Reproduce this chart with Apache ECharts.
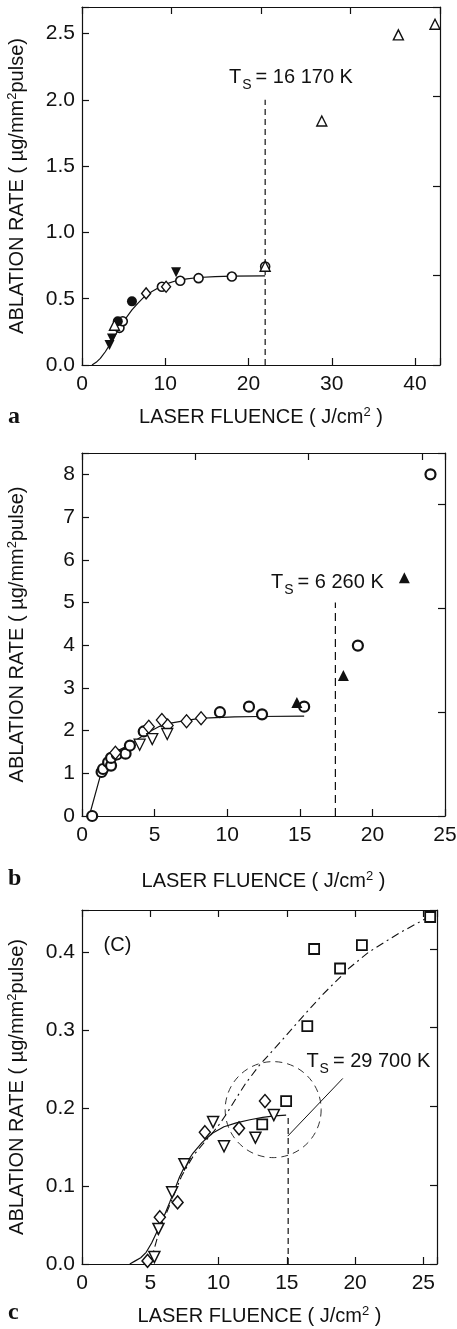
<!DOCTYPE html>
<html>
<head>
<meta charset="utf-8">
<script src="https://cdn.jsdelivr.net/npm/echarts@6/dist/echarts.min.js"></script>
<style>
  html, body { margin: 0; padding: 0; background: #fff; }
  #chart { width: 457px; height: 1329px; }
</style>
</head>
<body>
<div id="chart"></div>
<script>
// ---- panel a ----
const aCircleOpen = [[4.5, 0.28], [4.9, 0.33], [9.6, 0.59], [11.8, 0.635], [14, 0.655], [18, 0.667], [22, 0.743]];
const aCircleFilled = [[4.3, 0.33], [6.0, 0.48]];
const aDiamond = [[7.7, 0.54], [10.1, 0.59]];
const aTriDownFilled = [[3.3, 0.15], [3.6, 0.2], [11.3, 0.7]];
const aTriOpen = [[3.9, 0.3], [22, 0.745], [28.8, 1.84], [38, 2.49], [42.4, 2.57]];
const aFit = [[1.2, 0], [1.7, 0.02], [2.2, 0.05], [2.8, 0.1], [3.4, 0.16], [4.0, 0.225], [4.6, 0.29], [5.3, 0.355], [6, 0.415], [6.7, 0.465], [7.4, 0.51], [8.4, 0.555], [9.4, 0.59], [10.4, 0.617], [11.4, 0.637], [12.6, 0.65], [14, 0.66], [16, 0.667], [18, 0.67], [22, 0.672]];
const aThreshold = [[22, 0], [22, 2.0]];
const aTsAt = [[25.1, 2.17]];
const aTsText = '16 170 K';

// ---- panel b ----
const bCircle = [[0.7, 0], [1.35, 1.03], [1.45, 1.1], [1.8, 1.26], [2.0, 1.18], [2.0, 1.36], [2.4, 1.44], [3.0, 1.46], [3.3, 1.65], [4.25, 1.98], [9.5, 2.43], [11.5, 2.56], [12.4, 2.38], [15.3, 2.56], [19.0, 3.99], [24.0, 8.0]];
const bDiamond = [[2.3, 1.48], [4.6, 2.09], [5.5, 2.25], [5.9, 2.12], [7.2, 2.22], [8.2, 2.29]];
const bTriDownOpen = [[3.97, 1.67], [4.84, 1.8], [5.87, 1.92]];
const bTriFilled = [[14.8, 2.66], [18.0, 3.29], [22.2, 5.58]];
const bFit = [[0.5, 0], [1.35, 1.05], [1.6, 1.25], [1.9, 1.4], [2.4, 1.52], [3.0, 1.62], [3.6, 1.75], [4.2, 1.88], [4.8, 2.0], [5.35, 2.1], [6.2, 2.18], [7.2, 2.24], [8.0, 2.28], [8.8, 2.3], [10.5, 2.32], [12.2, 2.33], [15.3, 2.34]];
const bThreshold = [[17.45, 0], [17.45, 5.0]];
const bTsAt = [[16.9, 5.47]];
const bTsText = '6 260 K';

// ---- panel c ----
const cSquare = [[13.2, 0.179], [14.95, 0.209], [16.5, 0.305], [17.0, 0.404], [18.9, 0.379], [20.5, 0.409], [25.5, 0.445]];
const cDiamond = [[4.8, 0.004], [5.7, 0.06], [7.0, 0.079], [9.0, 0.169], [11.5, 0.174], [13.4, 0.209]];
const cTriDown = [[5.3, 0.009], [5.6, 0.045], [6.6, 0.092], [7.5, 0.128], [9.6, 0.182], [10.4, 0.151], [12.7, 0.162], [14.05, 0.191]];
const cFit = [[3.5, 0], [3.9, 0.004], [4.3, 0.008], [4.7, 0.015], [5.1, 0.027], [5.56, 0.044], [6.0, 0.061], [6.42, 0.079], [6.8, 0.096], [7.15, 0.112], [7.6, 0.128], [8.12, 0.142], [8.8, 0.156], [9.58, 0.168], [10.4, 0.176], [11.3, 0.181], [12.3, 0.185], [13.24, 0.188], [14.1, 0.19], [14.95, 0.191]];
const cFitHigh = [[5.0, 0], [5.3, 0.02], [5.7, 0.045], [6.2, 0.066], [6.6, 0.083], [7.3, 0.113], [8.2, 0.14], [9.0, 0.157], [9.6, 0.169], [10.1, 0.18], [10.6, 0.193], [11.2, 0.21], [12, 0.232], [13, 0.255], [14.7, 0.288], [16.2, 0.318], [17.6, 0.345], [19.6, 0.38], [21, 0.4], [23.2, 0.424], [25.9, 0.45]];
const cThreshold = [[15.1, 0], [15.1, 0.19]];
const cLeader = [[15.07, 0.164], [19.1, 0.238]];
const cCircleCenter = [[14.0, 0.198]];
const cTsAt = [[20.97, 0.26]];
const cTsText = '29 700 K';
const cTagAt = [[2.6, 0.409]];

// axis ranges: [xMax, xStep, xTopStep, yMax, yStep, yRightStep, yDigits]
const axesA = [43, 10, 10.75, 2.7, 0.5, 0.675, 1];
const axesB = [25, 5, 7.8, 8.5, 1, 2.43, 0];
const axesC = [26, 5, 5, 0.454, 0.1, 0.101, 1];

const ink = '#111';
const fam = '"Liberation Sans", Arial, Helvetica, sans-serif';
const lineW = 1.2;

const chart = echarts.init(document.getElementById('chart'));

const grids = [
  { left: 82, top: 7, width: 358, height: 358, outerBoundsMode: 'none' },
  { left: 82, top: 453, width: 363, height: 363, outerBoundsMode: 'none' },
  { left: 82, top: 910, width: 355, height: 354, outerBoundsMode: 'none' }
];

function onStep(v, step) {
  const k = v / step;
  return Math.abs(k - Math.round(k)) < 1e-6;
}

const xAxes = [];
const yAxes = [];
const nameGapsX = [41, 54, 41];
const tickStyle = { inside: true, length: 7, lineStyle: { color: ink, width: lineW } };
const axisLineStyle = { show: true, onZero: false, lineStyle: { color: ink, width: lineW } };
const supRich = {
  sup: { fontSize: 13, fontFamily: fam, color: ink, padding: [0, 0, 9, 0] }
};

[axesA, axesB, axesC].forEach(function (ax, gi) {
  const [xMax, xStep, xTopStep, yMax, yStep, yRightStep, yDigits] = ax;
  xAxes.push({
    gridIndex: gi, type: 'value', position: 'bottom', min: 0, max: xMax, interval: xStep,
    axisLine: axisLineStyle, axisTick: tickStyle, splitLine: { show: false },
    axisLabel: {
      margin: 9, color: ink, fontSize: 21, fontFamily: fam,
      formatter: function (v) { return onStep(v, xStep) ? String(v) : ''; }
    },
    name: 'LASER FLUENCE ( J/cm{sup|2} )', nameLocation: 'middle', nameGap: nameGapsX[gi],
    nameMoveOverlap: false,
    nameTextStyle: { color: ink, fontSize: 20, fontFamily: fam, rich: supRich }
  });
  xAxes.push({
    gridIndex: gi, type: 'value', position: 'top', min: 0, max: xMax, interval: xTopStep,
    axisLine: axisLineStyle, axisTick: tickStyle, axisLabel: { show: false }, splitLine: { show: false }
  });
  yAxes.push({
    gridIndex: gi, type: 'value', position: 'left', min: 0, max: yMax, interval: yStep,
    axisLine: axisLineStyle, axisTick: tickStyle, splitLine: { show: false },
    axisLabel: {
      margin: 7, color: ink, fontSize: 21, fontFamily: fam,
      formatter: function (v) { return onStep(v, yStep) ? v.toFixed(yDigits) : ''; }
    },
    name: 'ABLATION RATE ( µg/mm{sup|2}pulse)', nameLocation: 'middle', nameGap: 54,
    nameMoveOverlap: false,
    nameTextStyle: { color: ink, fontSize: 20, fontFamily: fam, rich: supRich }
  });
  yAxes.push({
    gridIndex: gi, type: 'value', position: 'right', min: 0, max: yMax, interval: yRightStep,
    axisLine: axisLineStyle, axisTick: tickStyle, axisLabel: { show: false }, splitLine: { show: false }
  });
});

function marks(gi, data, symbol, size, filled, border, rotate) {
  return {
    type: 'scatter', xAxisIndex: gi * 2, yAxisIndex: gi * 2, data: data,
    symbol: symbol, symbolSize: size, symbolRotate: rotate || 0, z: 5,
    itemStyle: {
      color: filled ? ink : '#fff', borderColor: ink, borderWidth: filled ? 0 : border, opacity: 1
    },
    silent: true
  };
}

function curve(gi, data, dash, width) {
  return {
    type: 'line', xAxisIndex: gi * 2, yAxisIndex: gi * 2, data: data,
    showSymbol: false, symbol: 'none', smooth: false, z: 3,
    lineStyle: { color: ink, width: width, type: dash },
    silent: true
  };
}

const tsRich = {
  t: { fontSize: 20, fontFamily: fam, color: ink, textBorderWidth: 0 },
  s: { fontSize: 14, fontFamily: fam, color: ink, textBorderWidth: 0, padding: [15, 4, 0, 1] }
};

// text annotation anchored at a data point, drawn through the axes
function note(gi, at, formatter, rich) {
  return {
    type: 'scatter', xAxisIndex: gi * 2, yAxisIndex: gi * 2, data: at,
    symbolSize: 0, silent: true, z: 6,
    itemStyle: { opacity: 1 },
    label: {
      show: true, position: 'inside', align: 'center', verticalAlign: 'middle',
      color: ink, textBorderWidth: 0, opacity: 1, fontSize: 20, fontFamily: fam,
      formatter: formatter, rich: rich
    }
  };
}

const series = [
  // a
  curve(0, aFit, 'solid', lineW),
  curve(0, aThreshold, [6, 4], 1.2),
  marks(0, aCircleOpen, 'circle', 9, false, 1.6),
  marks(0, aCircleFilled, 'circle', 10, true),
  marks(0, aDiamond, 'diamond', [9, 11], false, 1.4),
  marks(0, aTriDownFilled, 'triangle', 10, true, 0, 180),
  marks(0, aTriOpen, 'triangle', 10, false, 1.4),
  note(0, aTsAt, '{t|T}{s|S}{t|= ' + aTsText + '}', tsRich),
  // b
  curve(1, bFit, 'solid', lineW),
  curve(1, bThreshold, [8, 5], 1.2),
  marks(1, bCircle, 'circle', 10, false, 2.2),
  marks(1, bDiamond, 'diamond', [11, 13], false, 1.3),
  marks(1, bTriDownOpen, 'triangle', 11, false, 1.3, 180),
  marks(1, bTriFilled, 'triangle', 11, true),
  note(1, bTsAt, '{t|T}{s|S}{t|= ' + bTsText + '}', tsRich),
  // c
  curve(2, cFit, 'solid', lineW),
  curve(2, cFitHigh, [8, 4, 2, 4], 1.1),
  curve(2, cThreshold, [6, 4], 1.2),
  curve(2, cLeader, 'solid', 1),
  {
    type: 'custom', xAxisIndex: 4, yAxisIndex: 4, data: cCircleCenter, silent: true, z: 2,
    renderItem: function (params, api) {
      const p = api.coord([api.value(0), api.value(1)]);
      return {
        type: 'circle', shape: { cx: p[0], cy: p[1], r: 48 },
        style: { fill: 'none', stroke: '#333', lineWidth: 1, lineDash: [7, 5] }
      };
    }
  },
  marks(2, cSquare, 'rect', 10, false, 1.8),
  marks(2, cDiamond, 'diamond', [11, 13], false, 1.5),
  marks(2, cTriDown, 'triangle', 11, false, 1.5, 180),
  note(2, cTsAt, '{t|T}{s|S}{t|= ' + cTsText + '}', tsRich),
  note(2, cTagAt, '(C)', {})
];

const panelFont = 'bold 24px "Liberation Serif", "Times New Roman", serif';

chart.setOption({
  animation: false,
  backgroundColor: '#fff',
  grid: grids,
  xAxis: xAxes,
  yAxis: yAxes,
  series: series,
  graphic: [
    { type: 'text', left: 8, top: 405, style: { text: 'a', font: panelFont, fill: ink } },
    { type: 'text', left: 8, top: 867, style: { text: 'b', font: panelFont, fill: ink } },
    { type: 'text', left: 8, top: 1301, style: { text: 'c', font: panelFont, fill: ink } }
  ]
});

window.onresize = function () {
  chart.resize();
};
</script>
</body>
</html>
